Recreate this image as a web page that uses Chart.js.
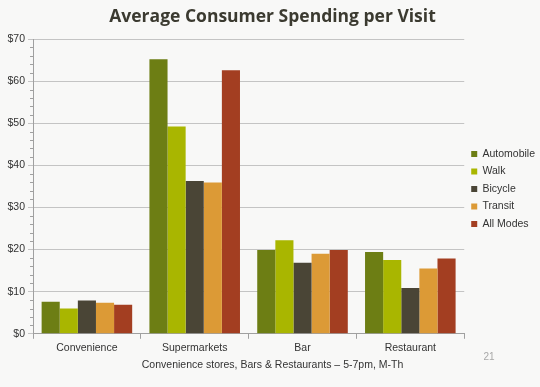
<!DOCTYPE html>
<html>
<head>
<meta charset="utf-8">
<script src="https://cdn.jsdelivr.net/npm/chart.js@4/dist/chart.umd.min.js"></script>
<style>
	html, body { margin: 0; padding: 0; background: #f8f8f7; }
	#wrap { width: 540px; height: 387px; position: relative; }
</style>
</head>
<body>
<div id="wrap"><canvas id="main-chart" width="540" height="387"></canvas></div>
<script>
// data
const categories = ['Convenience', 'Supermarkets', 'Bar', 'Restaurant'];
const automobile = [7.6, 65.2, 19.9, 19.4];
const walk = [6.0, 49.2, 22.2, 17.5];
const bicycle = [7.9, 36.3, 16.9, 10.9];
const transit = [7.4, 35.9, 19.0, 15.5];
const allModes = [6.9, 62.6, 19.9, 17.9];
const yTicks = [0, 10, 20, 30, 40, 50, 60, 70];

const seriesNames = ['Automobile', 'Walk', 'Bicycle', 'Transit', 'All Modes'];
const seriesColors = ['#6d7e14', '#a9b600', '#4a4536', '#dc9a36', '#a33e21'];
const seriesValues = [automobile, walk, bicycle, transit, allModes];

const textColor = '#333333';
const labelFont = { family: 'Liberation Sans', size: 10.5 };

// small ticks on the y axis between the labelled ones
const minorTicks = {
	id: 'minorTicks',
	afterDraw(chart) {
		const y = chart.scales.y;
		const ctx = chart.ctx;
		ctx.save();
		ctx.strokeStyle = '#a0a0a0';
		ctx.lineWidth = 1;
		for (let v = 0; v <= 70; v += 2) {
			if (v % 10 === 0) continue;
			const py = Math.round(y.getPixelForValue(v)) + 0.5;
			ctx.beginPath();
			ctx.moveTo(y.right - 3, py);
			ctx.lineTo(y.right, py);
			ctx.stroke();
		}
		// page number
		ctx.fillStyle = '#a8a8a8';
		ctx.font = '10px "Liberation Sans"';
		ctx.textAlign = 'center';
		ctx.textBaseline = 'middle';
		ctx.fillText('21', 489, 357);
		ctx.restore();
	}
};

const ctx = document.getElementById('main-chart');
new Chart(ctx, {
	type: 'bar',
	data: {
		labels: categories,
		datasets: seriesNames.map((name, i) => ({
			label: name,
			data: seriesValues[i],
			backgroundColor: seriesColors[i],
			categoryPercentage: 0.84,
			barPercentage: 1.0
		}))
	},
	options: {
		responsive: false,
		animation: false,
		layout: { padding: { left: 0, right: -5, top: 7, bottom: 16 } },
		plugins: {
			title: {
				display: true,
				text: 'Average Consumer Spending per Visit',
				color: '#3b3a30',
				font: { family: 'Open Sans', size: 17.5, weight: '700' },
				padding: { top: 0, bottom: 11 }
			},
			subtitle: {
				display: true,
				position: 'bottom',
				text: 'Convenience stores, Bars & Restaurants \u2013 5-7pm, M-Th',
				color: textColor,
				font: labelFont,
				padding: { top: 1, bottom: 0 }
			},
			legend: {
				position: 'right',
				align: 'center',
				labels: {
					boxWidth: 6,
					boxHeight: 6,
					padding: 7,
					color: textColor,
					font: labelFont
				}
			},
			tooltip: { enabled: false }
		},
		scales: {
			x: {
				grid: {
					offset: true,
					drawOnChartArea: false,
					drawTicks: true,
					tickLength: 5,
					color: '#a0a0a0'
				},
				border: { display: true, color: '#a0a0a0' },
				ticks: {
					color: textColor,
					font: labelFont,
					padding: 3
				}
			},
			y: {
				min: 0,
				max: 70,
				afterFit(scale) { scale.width = 33; },
				afterBuildTicks(scale) { scale.ticks = yTicks.map(v => ({ value: v })); },
				grid: {
					color: '#c4c4c4',
					drawTicks: true,
					tickLength: 5
				},
				border: { display: true, color: '#a0a0a0' },
				ticks: {
					color: textColor,
					font: labelFont,
					padding: 3,
					callback: v => '$' + v
				}
			}
		}
	},
	plugins: [minorTicks]
});
</script>
</body>
</html>
